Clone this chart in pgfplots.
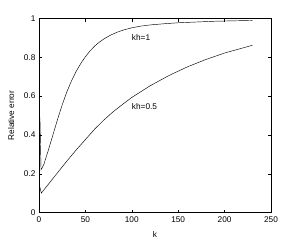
\documentclass[border=0pt]{standalone}
\usepackage{pgfplots}
\pgfplotsset{compat=1.18}
\usepackage{fontspec}
\setmainfont{Liberation Sans}
\begin{document}
\begin{tikzpicture}[x=1bp,y=1bp]
\begin{axis}[
  scale only axis,
  width=232bp, height=194bp,
  xmin=0, xmax=250, ymin=0, ymax=1,
  xtick={0,50,100,150,200,250},
  ytick={0,0.2,0.4,0.6,0.8,1},
  yticklabels={0,0.2,0.4,0.6,0.8,1},
  tick align=inside,
  major tick length=3bp,
  tick style={black, line width=0.4pt},
  axis line style={black, line width=0.6pt},
  /pgf/number format/assume math mode=true,
  ticklabel style={font=\fontsize{8.3}{10}\selectfont},
  label style={font=\fontsize{8.3}{10}\selectfont},
  xticklabel style={yshift=-1bp},
  xlabel={k},
  ylabel={Relative error},
  xlabel style={yshift=-2bp},
  ylabel style={yshift=3bp},
]
\addplot[black, line width=0.45pt] coordinates {
(1,0.49) (2.2,0.22) (5,0.245) (10,0.32) (15,0.40) (20,0.48) (25,0.555) (30,0.622) (35,0.678) (40,0.727) (45,0.768) (50,0.803) (55,0.833) (60,0.858) (65,0.878) (70,0.895) (77,0.914) (84,0.929) (92,0.942) (100,0.952) (110,0.961) (120,0.967) (135,0.973) (150,0.978) (170,0.982) (190,0.986) (210,0.988) (230,0.99)
};
\addplot[black, line width=0.45pt] coordinates {
(1,0.13) (2.5,0.10) (10,0.145) (20,0.205) (30,0.265) (40,0.322) (50,0.376) (60,0.43) (70,0.477) (80,0.52) (90,0.557) (100,0.593) (120,0.654) (140,0.706) (160,0.751) (180,0.789) (200,0.822) (230,0.862)
};
\node[anchor=west, font=\fontsize{8.3}{10}\selectfont, inner sep=0pt] at (axis cs:100,0.90) {kh=1};
\node[anchor=west, font=\fontsize{8.3}{10}\selectfont, inner sep=0pt] at (axis cs:100,0.545) {kh=0.5};
\end{axis}
\path (current axis.south west) ++(-39bp,-28.3bp) coordinate (bbA);
\path (current axis.north east) ++(29bp,18.5bp) coordinate (bbB);
\path (bbA) rectangle (bbB);
\end{tikzpicture}
\end{document}
